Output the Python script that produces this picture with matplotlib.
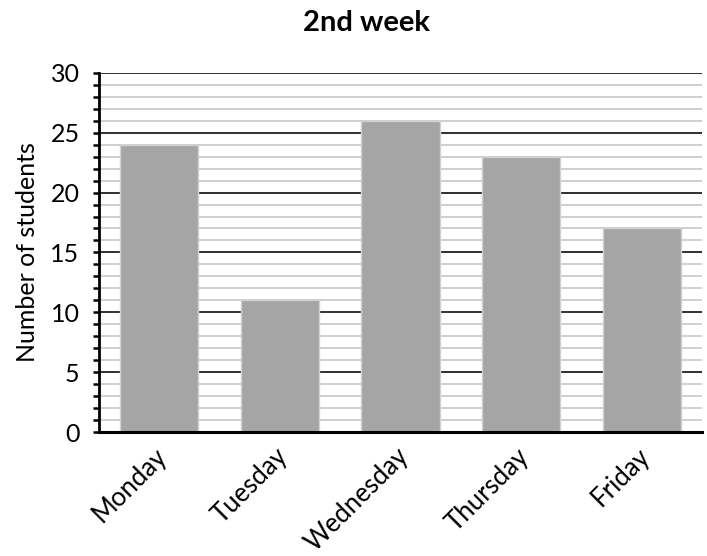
import matplotlib.pyplot as plt
from matplotlib.ticker import MultipleLocator
from matplotlib.transforms import ScaledTranslation

days = ['Monday', 'Tuesday', 'Wednesday', 'Thursday', 'Friday']
students = [24, 11, 26, 23, 17]

plt.rcParams['font.family'] = ['Lato', 'DejaVu Sans']

fig = plt.figure(figsize=(7.07, 5.56), dpi=100)
ax = fig.add_axes([0.140, 0.223, 0.853, 0.646])

ax.bar(range(len(days)), students, width=0.65, color='#a5a5a5',
       edgecolor='#d0d0d0', linewidth=1, zorder=3)

ax.set_xlim(-0.5, len(days) - 0.5)
ax.set_ylim(0, 30)
ax.yaxis.set_major_locator(MultipleLocator(5))
ax.yaxis.set_minor_locator(MultipleLocator(1))

# black lines at every 5, light grey at every student
ax.grid(axis='y', which='major', color='#202020', linewidth=1.3, zorder=1)
ax.grid(axis='y', which='minor', color='#cccccc', linewidth=1.3, zorder=0)
ax.set_axisbelow(True)

for side in ['top', 'right']:
    ax.spines[side].set_visible(False)
ax.spines['left'].set_linewidth(2)
ax.spines['bottom'].set_linewidth(2.2)
ax.spines['bottom'].set_zorder(4)

ax.tick_params(axis='y', which='both', direction='out', length=4, width=1.8,
               labelsize=18, pad=10)
ax.tick_params(axis='x', length=0, labelsize=18.5, pad=6)

ax.set_xticks(range(len(days)))
ax.set_xticklabels(days, rotation=45, ha='right', va='center',
                   rotation_mode='anchor')
shift = ScaledTranslation(4 / 100, -12 / 100, fig.dpi_scale_trans)
for lbl in ax.get_xticklabels():
    lbl.set_transform(lbl.get_transform() + shift)

ax.set_ylabel('Number of students', fontsize=18, labelpad=8)
fig.text(0.518, 0.958, '2nd week', ha='center', va='center',
         fontsize=21, fontweight='bold')

fig.savefig('out.png', dpi=100)
